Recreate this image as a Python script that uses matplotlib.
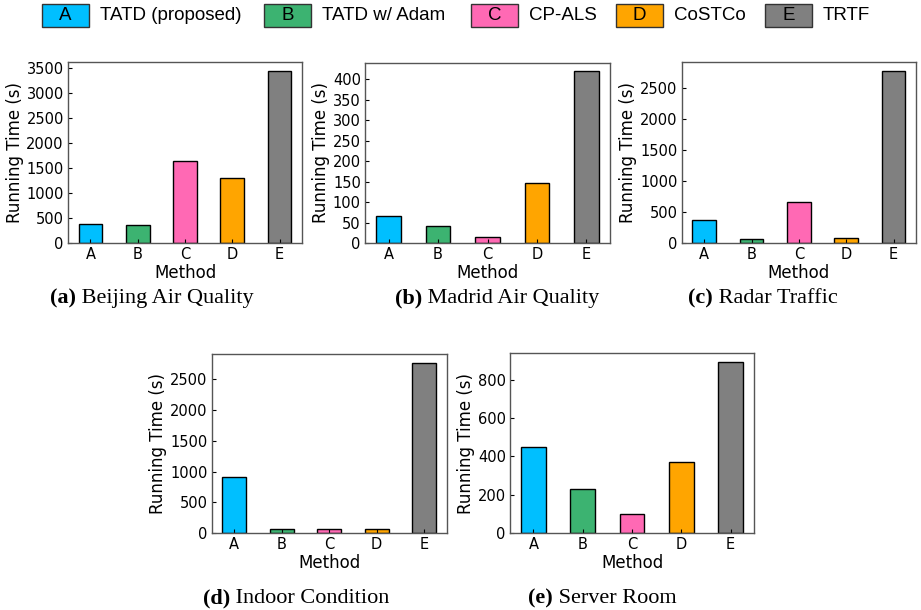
import matplotlib
matplotlib.use("Agg")
import matplotlib.pyplot as plt
from matplotlib.patches import Rectangle
from matplotlib.ticker import MultipleLocator

# ---- data ----
methods = ["A", "B", "C", "D", "E"]
method_names = ["TATD (proposed)", "TATD w/ Adam", "CP-ALS", "CoSTCo", "TRTF"]
colors = ["#00BFFF", "#3CB371", "#FF69B4", "#FFA500", "#808080"]

beijing = [380, 360, 1640, 1300, 3450]
madrid = [67, 42, 16, 147, 420]
radar = [377, 70, 657, 81, 2775]
indoor = [905, 65, 65, 75, 2764]
server = [449, 233, 101, 370, 892]

panel_values = [beijing, madrid, radar, indoor, server]
panel_steps = [500, 50, 500, 500, 200]
panel_tags = ["(a)", "(b)", "(c)", "(d)", "(e)"]
panel_titles = ["Beijing Air Quality", "Madrid Air Quality", "Radar Traffic",
                "Indoor Condition", "Server Room"]

W, H = 921, 610
fig = plt.figure(figsize=(W / 100, H / 100), dpi=100)

# axes boxes in pixels: left, top, right, bottom
boxes = [(68, 62, 302, 243.3),
         (365, 62.5, 610, 243.3),
         (681.7, 62.3, 916, 243.3),
         (211.7, 354, 446.7, 533.3),
         (510, 353.3, 754, 533.3)]
cap_pos = [(50, 303), (395, 303), (688, 303), (203, 603), (528, 603)]

def px_axes(l, t, r, b):
    return fig.add_axes([l / W, 1 - b / H, (r - l) / W, (b - t) / H])

for vals, step, box, tag, title, cp in zip(panel_values, panel_steps, boxes,
                                           panel_tags, panel_titles, cap_pos):
    ax = px_axes(*box)
    ax.bar(range(len(methods)), vals, width=0.5, color=colors,
           edgecolor="black", linewidth=1.0)
    ax.set_xticks(range(len(methods)))
    ax.set_xticklabels(methods)
    ax.yaxis.set_major_locator(MultipleLocator(step))
    ax.tick_params(direction="in", labelsize=10.5, length=3, pad=3)
    ax.set_xlabel("Method", fontsize=12, labelpad=1)
    ax.set_ylabel("Running Time (s)", fontsize=12, labelpad=2)
    for s in ax.spines.values():
        s.set_color("#555555")
        s.set_linewidth(1.0)
    t1 = fig.text(cp[0] / W, 1 - cp[1] / H, tag, fontsize=16, weight="bold",
                  family="Liberation Serif", ha="left", va="baseline")
    ax.annotate(" " + title, xy=(1, 0), xycoords=t1, fontsize=16,
                family="Liberation Serif", ha="left", va="bottom",
                annotation_clip=False)

# ---- legend in pixel coords ----
lax = fig.add_axes([0, 0, 1, 1], zorder=5)
lax.set_xlim(0, W)
lax.set_ylim(H, 0)
lax.axis("off")
box_lefts = [42, 264, 471, 616, 765]
bw, bh = 47, 22.4
ytop = 4.3
for m, name, c, bl in zip(methods, method_names, colors, box_lefts):
    lax.add_patch(Rectangle((bl, ytop), bw, bh, facecolor=c, edgecolor="#333333", linewidth=1.0))
    lax.text(bl + bw / 2, ytop + bh / 2 + 0.5, m, ha="center", va="center",
             fontsize=13.5, family="Liberation Sans")
    lax.text(bl + bw + 11, ytop + bh / 2 + 0.5, name, ha="left", va="center",
             fontsize=13.5, family="Liberation Sans")

fig.savefig("out.png", dpi=100)
